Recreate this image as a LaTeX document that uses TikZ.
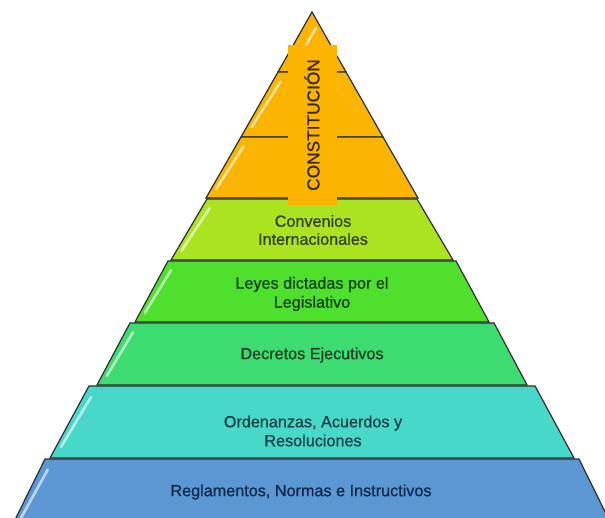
\documentclass[tikz,border=0pt]{standalone}
\usepackage{fontspec}
\setmainfont{Liberation Sans}
\newfontfamily\lblfont[FakeBold=0.6]{Liberation Sans}
\usetikzlibrary{calc}
\definecolor{cOrange}{HTML}{FBB500}
\definecolor{cConv}{HTML}{ACE320}
\definecolor{cLeyes}{HTML}{4EE02C}
\definecolor{cDecr}{HTML}{3DDC70}
\definecolor{cOrd}{HTML}{47D8C9}
\definecolor{cRegl}{HTML}{5B97D2}
\definecolor{tOrange}{HTML}{3A2600}
\definecolor{tConv}{HTML}{2F3F05}
\definecolor{tLeyes}{HTML}{0E3F0C}
\definecolor{tDecr}{HTML}{0C3D22}
\definecolor{tOrd}{HTML}{0C3E45}
\definecolor{tRegl}{HTML}{10284A}
\definecolor{edge}{HTML}{2E2E2E}
\tikzset{
  bandline/.style={draw=edge, line width=1.2pt, line join=miter},
  hl/.style={draw=white, opacity=0.6, line width=2.6pt, line cap=round},
  lbl/.style={font=\lblfont\fontsize{16.2}{19}\selectfont, align=center, inner sep=0pt},
}
% #1 ytop, #2 half width top, #3 ybottom, #4 half width bottom, #5 colour
\newcommand\pyrband[5]{%
  \path[bandline, fill=#5] (312-#2,#1) -- (312+#2,#1) -- (312+#4,#3) -- (312-#4,#3) -- cycle;
  \draw[hl] ($(312-#2,#1)!0.15!(312-#4,#3)+(8,0)$) -- ($(312-#2,#1)!0.85!(312-#4,#3)+(5,0)$);
}
\begin{document}
\begin{tikzpicture}[x=1pt,y=-1pt]
\useasboundingbox (0,0) rectangle (605,518);
\clip (0,0) rectangle (605,518);
% orange top (three pieces)
\path[bandline, fill=cOrange] (312,12) -- (346,72) -- (278,72) -- cycle;
\draw[hl] (316,28) -- (306,45);
\pyrband{72}{34}{137}{71}{cOrange}
\pyrband{137}{71}{198}{106}{cOrange}
% lower bands
\pyrband{199}{105}{260}{141}{cConv}
\pyrband{261}{144}{322}{177}{cLeyes}
\pyrband{323}{182}{385}{215}{cDecr}
\pyrband{386}{223}{458}{262}{cOrd}
\pyrband{459}{267}{530}{302}{cRegl}
% vertical label panel
\fill[cOrange] (288,45) rectangle (337,205);
\node[lbl, rotate=90, text=tOrange, font=\lblfont\fontsize{17.3}{19}\selectfont] (const) at (312,125) {CONSTITUCIÓN};
\node[lbl, text=tConv, font=\lblfont\fontsize{16.2}{18}\selectfont] (conv) at (313,230) {Convenios\\Internacionales};
\node[lbl, text=tLeyes] (leyes) at (312,294) {Leyes dictadas por el\\Legislativo};
\node[lbl, text=tDecr] (decr) at (312,355) {Decretos Ejecutivos};
\node[lbl, text=tOrd] (ord) at (313,431) {Ordenanzas, Acuerdos y\\Resoluciones};
\node[lbl, text=tRegl] (regl) at (301,492) {Reglamentos, Normas e Instructivos};
\end{tikzpicture}
\end{document}
